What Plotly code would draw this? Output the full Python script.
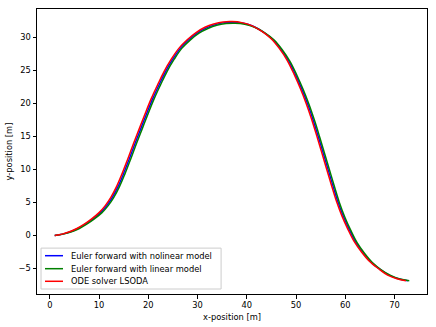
import plotly.graph_objects as go

# ODE solver LSODA
red_x = [1.0, 2.5, 4.0, 5.5, 7.0, 8.5, 10.0, 11.3, 12.4, 13.5, 14.6, 15.8, 17.0, 18.2, 19.4, 20.6,
         21.9, 23.2, 24.7, 26.2, 27.9, 29.7, 31.5, 33.3, 35.2, 37.0,
         39.0, 41.0, 43.0, 44.9, 46.6, 48.2, 49.6, 50.9, 52.1, 53.2, 54.2, 55.2, 56.2, 57.2, 58.2,
         59.3, 60.5, 61.8, 63.3, 64.9, 66.7, 68.6, 70.5, 72.3]
red_y = [0.0, 0.2, 0.55, 1.05, 1.7, 2.5, 3.45, 4.55, 5.75, 7.3, 9.2, 11.5, 13.9, 16.2, 18.5, 20.7,
         22.8, 24.8, 26.7, 28.3, 29.6, 30.7, 31.5, 32.0, 32.3, 32.35,
         32.2, 31.75, 30.9, 29.8, 28.3, 26.5, 24.4, 22.2, 19.9, 17.5, 15.1, 12.6, 10.1, 7.6, 5.2,
         3.0, 1.0, -0.9, -2.5, -3.9, -5.0, -6.0, -6.55, -6.85]

# Euler forward, nonlinear model
blue_x = [1.0, 2.6, 4.2, 5.7, 7.25, 8.75, 10.3, 11.6, 12.7, 13.8, 14.9, 16.1, 17.3, 18.5, 19.7, 20.9,
          22.2, 23.5, 25.0, 26.5, 28.2, 30.0, 31.8, 33.6, 35.5, 37.3,
          39.3, 41.3, 43.3, 45.2, 46.9, 48.5, 49.9, 51.2, 52.4, 53.5, 54.5, 55.5, 56.5, 57.5, 58.5,
          59.6, 60.8, 62.1, 63.6, 65.2, 67.0, 68.9, 70.8, 72.7]
blue_y = [0.0, 0.2, 0.55, 1.05, 1.7, 2.5, 3.45, 4.55, 5.75, 7.3, 9.2, 11.5, 13.9, 16.2, 18.5, 20.7,
          22.8, 24.8, 26.7, 28.3, 29.6, 30.65, 31.4, 31.9, 32.2, 32.25,
          32.1, 31.65, 30.8, 29.7, 28.2, 26.4, 24.3, 22.1, 19.8, 17.4, 15.0, 12.5, 10.0, 7.5, 5.1,
          2.9, 0.9, -1.0, -2.6, -4.0, -5.1, -6.0, -6.55, -6.85]

# Euler forward, linear model
green_x = [1.0, 2.7, 4.4, 6.0, 7.5, 9.05, 10.6, 11.9, 13.0, 14.1, 15.2, 16.4, 17.6, 18.8, 20.0, 21.2,
           22.5, 23.8, 25.3, 26.8, 28.5, 30.3, 32.1, 33.9, 35.8, 37.6,
           39.6, 41.6, 43.6, 45.5, 47.2, 48.8, 50.2, 51.5, 52.7, 53.8, 54.8, 55.8, 56.8, 57.8, 58.8,
           59.9, 61.1, 62.4, 63.9, 65.5, 67.3, 69.2, 71.1, 73.0]
green_y = [0.0, 0.2, 0.55, 1.05, 1.7, 2.5, 3.45, 4.55, 5.75, 7.3, 9.2, 11.5, 13.9, 16.2, 18.5, 20.7,
           22.8, 24.8, 26.7, 28.3, 29.55, 30.6, 31.3, 31.8, 32.05, 32.1,
           31.95, 31.5, 30.7, 29.6, 28.1, 26.3, 24.2, 22.0, 19.7, 17.3, 14.9, 12.4, 9.9, 7.4, 5.0,
           2.8, 0.8, -1.1, -2.7, -4.1, -5.2, -6.05, -6.6, -6.85]

names = ["Euler forward with nolinear model", "Euler forward with linear model", "ODE solver LSODA"]
colors = ["blue", "green", "red"]
x_ticks = [0, 10, 20, 30, 40, 50, 60, 70]
y_ticks = [-5, 0, 5, 10, 15, 20, 25, 30]

FS = 8.3
fig = go.Figure()
for xs, ys, col, name in zip([blue_x, green_x, red_x], [blue_y, green_y, red_y], colors, names):
    fig.add_trace(go.Scatter(x=xs, y=ys, mode="lines", name=name, showlegend=False,
                             line=dict(color=col, width=1.5, shape="spline", smoothing=1)))

ax = dict(showline=True, linecolor="black", linewidth=1, mirror=True, showgrid=False,
          zeroline=False, ticks="outside", ticklen=3.5, tickcolor="black", automargin=False,
          tickfont=dict(size=FS, color="black"))
fig.update_xaxes(range=[-2.6, 76.6], tickvals=x_ticks,
                 title=dict(text="x-position [m]", font=dict(size=FS), standoff=4), **ax)
fig.update_yaxes(range=[-8.86, 34.26], tickvals=y_ticks,
                 title=dict(text="y-position [m]", font=dict(size=FS), standoff=4), **ax)

# matplotlib-like legend box drawn by hand (lower left)
fig.add_shape(type="rect", xref="paper", yref="paper", x0=0.0103, x1=0.472, y0=0.0175, y1=0.161,
              fillcolor="rgba(255,255,255,0.8)", line=dict(color="#cccccc", width=1))
for yy, col, name in zip([0.1344, 0.0888, 0.0446], colors, names):
    fig.add_shape(type="line", xref="paper", yref="paper", x0=0.0205, x1=0.0667, y0=yy, y1=yy,
                  line=dict(color=col, width=1.5))
    fig.add_annotation(x=0.082, y=yy, xref="paper", yref="paper", text=name, showarrow=False,
                       xanchor="left", yanchor="middle", font=dict(size=FS, color="black"))

fig.update_layout(
    width=436, height=327,
    margin=dict(l=37, r=9, t=9, b=33),
    paper_bgcolor="white", plot_bgcolor="white",
    font=dict(family="DejaVu Sans", color="black"),
)
# drop the browser's default 8px body margin so the figure sits at the window corner
fig.write_html("out.html", config={"displayModeBar": False},
               post_script="document.body.style.margin='0';document.body.style.overflow='hidden';")
